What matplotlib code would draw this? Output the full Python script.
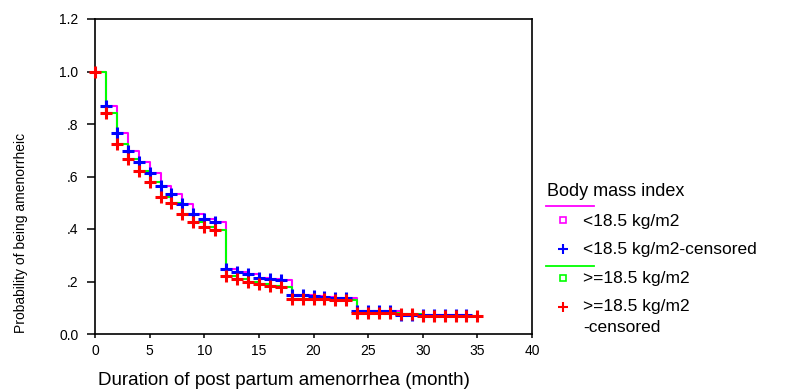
import matplotlib
matplotlib.use("Agg")
import matplotlib.pyplot as plt
from matplotlib.lines import Line2D
from matplotlib import font_manager

# Kaplan-Meier estimates by body mass index group (month -> probability)
months_low = list(range(0, 35))
surv_low = [1.000, 0.867, 0.766, 0.696, 0.655, 0.615, 0.564, 0.535, 0.494, 0.459,
            0.439, 0.425, 0.246, 0.236, 0.227, 0.212, 0.209, 0.205, 0.150, 0.148,
            0.145, 0.140, 0.137, 0.137, 0.088, 0.088, 0.088, 0.088, 0.074, 0.074,
            0.072, 0.072, 0.072, 0.072, 0.072]

months_high = list(range(0, 36))
surv_high = [1.000, 0.842, 0.725, 0.665, 0.620, 0.579, 0.521, 0.500, 0.459, 0.426,
             0.406, 0.396, 0.221, 0.209, 0.197, 0.189, 0.183, 0.178, 0.133, 0.133,
             0.133, 0.132, 0.130, 0.130, 0.081, 0.081, 0.081, 0.081, 0.075, 0.075,
             0.070, 0.070, 0.070, 0.070, 0.070, 0.070]

y_ticks = [0.0, 0.2, 0.4, 0.6, 0.8, 1.0, 1.2]
y_tick_labels = ["0.0", ".2", ".4", ".6", ".8", "1.0", "1.2"]
x_ticks = [0, 5, 10, 15, 20, 25, 30, 35, 40]

legend_title = "Body mass index"
legend_labels = ["<18.5 kg/m2", "<18.5 kg/m2-censored", ">=18.5 kg/m2", ">=18.5 kg/m2",
                 "-censored"]

MAGENTA = "#ff00ff"
GREEN = "#00ff00"
BLUE = "#0000ff"
RED = "#ff0000"

W, H = 787, 390
plt.rcParams["font.family"] = ["Liberation Sans", "DejaVu Sans"]

available = {f.name for f in font_manager.fontManager.ttflist}
if "Liberation Sans Narrow" in available:
    ylab_family, ylab_size = ["Liberation Sans Narrow", "Liberation Sans"], 12
else:
    ylab_family, ylab_size = ["Liberation Sans", "DejaVu Sans"], 10


def fx(px):
    return px / W


def fy(py):
    return 1 - py / H


fig = plt.figure(figsize=(W / 100, H / 100), dpi=100)
ax = fig.add_axes([fx(95), fy(334), (532 - 95) / W, (334 - 19) / H])

ax.step(months_low, surv_low, where="post", color=MAGENTA, lw=1.5, zorder=2)
ax.step(months_high, surv_high, where="post", color=GREEN, lw=1.5, zorder=3)
ax.plot(months_low[1:], surv_low[1:], ls="none", marker="+", ms=8, mew=2.2,
        color=BLUE, zorder=4, clip_on=False)
ax.plot(months_high, surv_high, ls="none", marker="+", ms=8, mew=2.2,
        color=RED, zorder=5, clip_on=False)

ax.set_xlim(0, 40)
ax.set_ylim(0, 1.2)
ax.set_xticks(x_ticks)
ax.set_yticks(y_ticks, y_tick_labels)
ax.tick_params(direction="out", width=1.1, labelsize=10, colors="black")
ax.tick_params(axis="y", length=6, pad=6)
ax.tick_params(axis="x", length=3, pad=4)
for sp in ax.spines.values():
    sp.set_linewidth(1.2)
    sp.set_color("black")

fig.text(fx(21), fy(233), "Probability of being amenorrheic", rotation=90,
         ha="center", va="center", fontsize=ylab_size, family=ylab_family)
fig.text(fx(98), fy(385), "Duration of post partum amenorrhea (month)",
         ha="left", va="baseline", fontsize=13.5)

# legend block
fig.text(fx(547), fy(196.5), legend_title, ha="left", va="baseline", fontsize=13)
for ly, col in [(206, MAGENTA), (266, GREEN)]:
    fig.add_artist(Line2D([fx(546), fx(594)], [fy(ly), fy(ly)], color=col, lw=1.3,
                          transform=fig.transFigure))
marker_specs = [(220, "s", MAGENTA, 4, 1.2, "none"),
                (249, "+", BLUE, 7, 1.5, BLUE),
                (278.3, "s", GREEN, 4, 1.2, "none"),
                (306.7, "+", RED, 7, 1.5, RED)]
for (my, mk, col, ms, mew, mfc) in marker_specs:
    fig.add_artist(Line2D([fx(562.7)], [fy(my)], ls="none", marker=mk, ms=ms, mew=mew,
                          color=col, mfc=mfc, transform=fig.transFigure))
label_baselines = [226, 254, 283, 311.5, 331.5]
for lab, by in zip(legend_labels, label_baselines):
    fig.text(fx(583), fy(by), lab, ha="left", va="baseline", fontsize=12.5)

fig.savefig("out.png", dpi=100)
